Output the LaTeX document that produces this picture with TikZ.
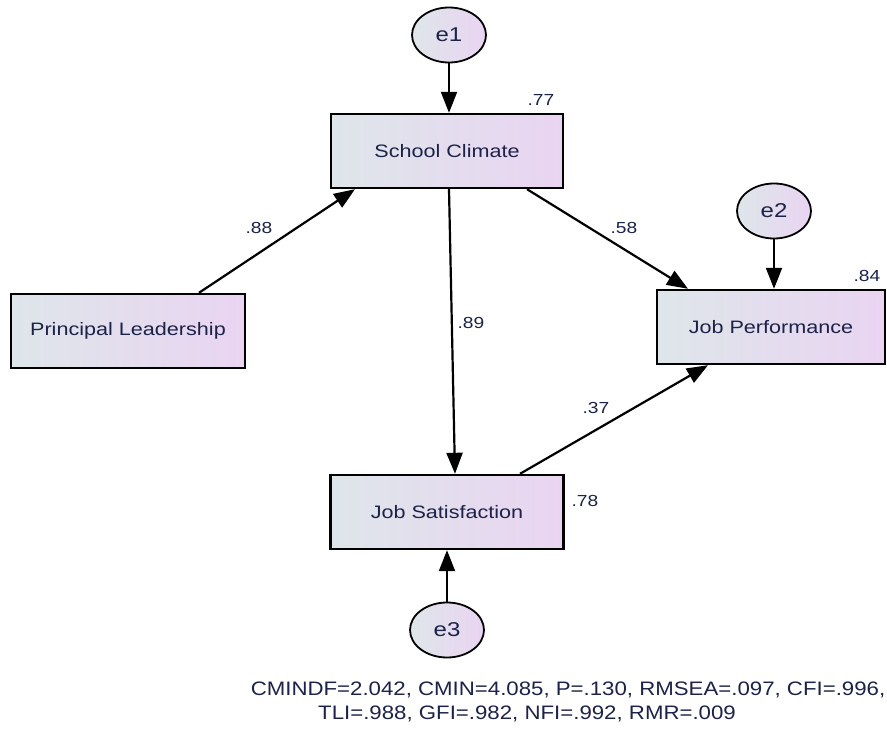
\documentclass[tikz,border=0pt]{standalone}
\usepackage{fontspec}
\setmainfont{Liberation Sans}
\usetikzlibrary{arrows.meta,shapes.geometric}
\definecolor{ink}{RGB}{28,34,72}
\definecolor{boxleft}{RGB}{222,230,234}
\definecolor{boxright}{RGB}{234,212,242}
% wide-set text
\newcommand{\widetext}[2][1.2]{\scalebox{#1}[1]{#2}}
\tikzset{
  varbox/.style={draw=black, line width=2.4pt, left color=boxleft, right color=boxright,
    minimum width=#1, minimum height=74pt, inner sep=0pt, text=ink, font=\fontsize{18}{21}\selectfont},
  errnode/.style={ellipse, draw=black, line width=1.8pt, left color=boxleft, right color=boxright,
    minimum width=74pt, minimum height=55pt, inner sep=0pt, text=ink, font=\fontsize{20}{24}\selectfont},
  path/.style={line width=2.2pt, -{Triangle[length=21pt,width=16pt]}},
  coef/.style={text=ink, font=\fontsize{16}{18}\selectfont, inner sep=0pt},
  fitline/.style={text=ink, font=\fontsize{19.5}{23}\selectfont, inner sep=0pt}
}
\begin{document}
\begin{tikzpicture}[x=1pt,y=-1pt]
\useasboundingbox (0,0) rectangle (887,730);

% observed variables
\node[varbox=232pt] (sc) at (447,151) {\widetext{School Climate}};
\node[varbox=234pt] (pl) at (128,331) {\widetext{Principal Leadership}};
\node[varbox=228pt] (jp) at (771,327) {\widetext{Job Performance}};
\node[varbox=233pt] (js) at (447,512) {\widetext{Job Satisfaction}};

% error terms
\node[errnode] (e1) at (449,35) {\widetext{e1}};
\node[errnode] (e2) at (774,211) {\widetext{e2}};
\node[errnode] (e3) at (447,630) {\widetext{e3}};

% squared multiple correlations
\node[coef] (r1) at (541,100) {\widetext{.77}};
\node[coef] (r2) at (867,276) {\widetext{.84}};
\node[coef] (r3) at (585,501) {\widetext{.78}};

% structural paths
\draw[path] (e1) -- ([xshift=2pt]sc.north);
\draw[path] (e2) -- ([xshift=3pt]jp.north);
\draw[path] (e3) -- (js.south);
\draw[path] ([xshift=71pt]pl.north) -- ([xshift=-92pt]sc.south);
\draw[path] ([xshift=2pt]sc.south) -- ([xshift=8pt]js.north);
\draw[path] ([xshift=80pt]sc.south) -- ([xshift=-83pt]jp.north);
\draw[path] ([xshift=73pt]js.north) -- ([xshift=-63pt]jp.south);

% path coefficients
\node[coef] (b1) at (259,228) {\widetext{.88}};
\node[coef] (b2) at (624,228) {\widetext{.58}};
\node[coef] (b3) at (471,323) {\widetext{.89}};
\node[coef] (b4) at (596,408) {\widetext{.37}};

% model fit indices
\node[fitline] (fit1) at (568,690) {\widetext[1.14]{CMINDF=2.042, CMIN=4.085, P=.130, RMSEA=.097, CFI=.996,}};
\node[fitline] (fit2) at (527,714) {\widetext[1.14]{TLI=.988, GFI=.982, NFI=.992, RMR=.009}};
\end{tikzpicture}
\end{document}
